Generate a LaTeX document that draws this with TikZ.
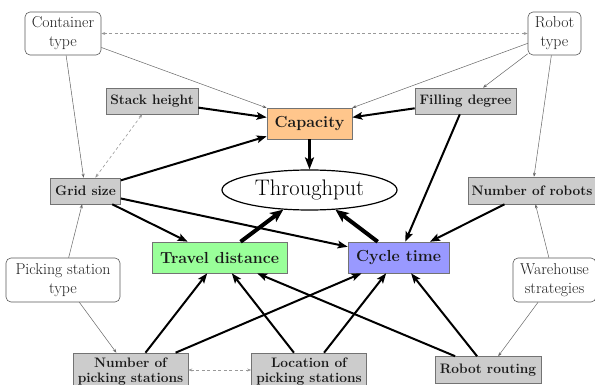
\documentclass[tikz,border=0pt]{standalone}
\usetikzlibrary{arrows.meta,shapes.geometric}
\begin{document}
\begin{tikzpicture}[x=1pt,y=-1pt,
  factor/.style={draw=black!65,line width=0.6pt,rounded corners=5pt,fill=white,inner sep=0pt,align=center,
    text=black!88,font=\fontsize{15.8}{19}\selectfont},
  graybox/.style={draw=black!55,line width=0.6pt,fill=gray!40,inner sep=0pt,align=center,
    text=black!90,font=\fontsize{13.7}{15}\selectfont\bfseries},
  mainbox/.style={draw=black!55,line width=0.6pt,inner sep=0pt,align=center,
    text=black!90,font=\fontsize{16}{19}\selectfont\bfseries},
  thin/.style={draw=black!60,line width=0.5pt,-{Stealth[length=4pt,width=3pt]}},
  dashedlink/.style={draw=black!40,line width=0.6pt,dashed,dash pattern=on 3pt off 2.5pt,
    {Stealth[length=4pt,width=3pt]}-{Stealth[length=4pt,width=3pt]}},
  strong/.style={draw=black,line width=2pt,-{Stealth[length=10pt,width=7.5pt,inset=2pt]}},
  stronger/.style={draw=black,line width=3pt,-{Stealth[length=12pt,width=9pt,inset=2.5pt]}},
  strongest/.style={draw=black,line width=4pt,-{Stealth[length=13pt,width=11pt,inset=3pt]}}
]
\useasboundingbox (0,0) rectangle (595,385);
% white factor nodes
\node[factor,minimum width=76pt,minimum height=43pt] (ct) at (63,33.5) {Container\\type};
\node[factor,minimum width=53pt,minimum height=43pt] (rt) at (554.5,33.5) {Robot\\type};
\node[factor,minimum width=114pt,minimum height=44pt] (pst) at (63,280) {Picking station\\type};
\node[factor,minimum width=83pt,minimum height=44pt] (ws) at (554.5,280) {Warehouse\\strategies};
% gray nodes
\node[graybox,minimum width=92pt,minimum height=26pt] (sh) at (152,101) {Stack height};
\node[graybox,minimum width=101pt,minimum height=26pt] (fd) at (465.5,101) {Filling degree};
\node[graybox,minimum width=70pt,minimum height=26pt] (gs) at (85.5,191) {Grid size};
\node[graybox,minimum width=128pt,minimum height=27pt] (nr) at (532,190.5) {Number of robots};
\node[graybox,minimum width=115pt,minimum height=38pt] (nps) at (130.5,372) {Number of\\picking stations};
\node[graybox,minimum width=115pt,minimum height=38pt] (lps) at (309,372) {Location of\\picking stations};
\node[graybox,minimum width=106pt,minimum height=27pt] (rr) at (488,370) {Robot routing};
% main nodes
\node[mainbox,fill=orange!45,minimum width=85pt,minimum height=31pt] (cap) at (309.5,123.5) {Capacity};
\node[mainbox,fill=green!40,minimum width=135pt,minimum height=31pt] (td) at (219.5,257.5) {Travel distance};
\node[mainbox,fill=blue!40,minimum width=101pt,minimum height=31pt] (cyc) at (398.5,257.5) {Cycle time};
\node[draw=black,line width=1.2pt,ellipse,fill=white,inner sep=0pt,minimum width=175pt,minimum height=40pt,
  font=\fontsize{22.5}{26}\selectfont] (tp) at (309.5,190) {Throughput};
% thin influence links
\draw[thin] (ct) -- (gs);
\draw[thin] (ct) -- (cap);
\draw[thin] (rt) -- (cap);
\draw[thin] (rt) -- (fd);
\draw[thin] (rt) -- (nr);
\draw[thin] (pst) -- (gs);
\draw[thin] (pst) -- (nps);
\draw[thin] (ws) -- (nr);
\draw[thin] (ws) -- (rr);
% dashed links
\draw[dashedlink] (ct) -- (rt);
\draw[dashedlink] (sh) -- (gs);
\draw[dashedlink] (nps.east |- 0,370) -- (lps.west |- 0,370);
% strong links
\draw[strong] (sh) -- (cap);
\draw[strong] (fd) -- (cap);
\draw[strong] (gs) -- ([yshift=3pt]cap.south west);
\draw[strong] (fd) -- (cyc);
\draw[strong] (nr) -- (cyc);
\draw[strong] (gs) -- (td);
\draw[strong] (gs) -- (cyc);
\draw[strong] (nps) -- (td);
\draw[strong] (nps) -- (cyc);
\draw[strong] (lps) -- (td);
\draw[strong] (lps) -- (cyc);
\draw[strong] (rr) -- (cyc);
\draw[strong] (rr) -- (td);
\draw[stronger] (cap) -- (tp);
\draw[strongest] (td) -- (tp);
\draw[strongest] (cyc) -- (tp);
\end{tikzpicture}
\end{document}
